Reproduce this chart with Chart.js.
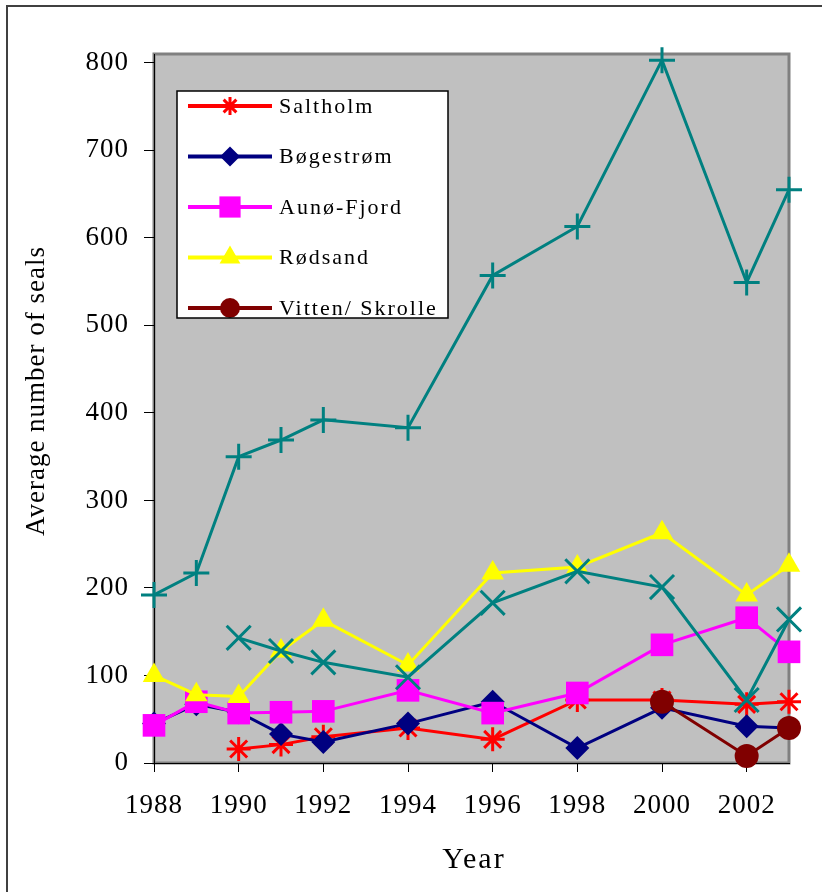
<!DOCTYPE html>
<html>
<head>
<meta charset="utf-8">
<script src="https://cdn.jsdelivr.net/npm/chart.js@4/dist/chart.umd.min.js"></script>
<style>
  html, body { margin: 0; padding: 0; background: #fff; }
  canvas { display: block; }
</style>
</head>
<body>
<canvas id="sealsChart" width="822" height="892"></canvas>
<script>
// survey years and counts
const years = [1988, 1989, 1990, 1991, 1992, 1994, 1996, 1998, 2000, 2002, 2003];
const saltholm = [null, null, 16, 21, 30, 40, 27, 72, 72, 67, 70];
const bogestrom = [45, 67, 58, 33, 24, 45, 70, 17, 63, 42, 40];
const aunoFjord = [43, 70, 57, 58, 59, 83, 57, 80, 135, 166, 127];
const rodsand = [100, 78, 76, 128, 163, 112, 217, 224, 263, 192, 226];
const vittenSkrolle = [null, null, null, null, null, null, null, null, 70, 8, 40];
const tealPlus = [192, 217, 350, 369, 392, 383, 557, 613, 803, 549, 655];
const tealCross = [null, null, 143, 128, 115, 98, 183, 219, 201, 72, 164];

const yTicks = [0, 100, 200, 300, 400, 500, 600, 700, 800];
const xTicks = [1988, 1990, 1992, 1994, 1996, 1998, 2000, 2002];

const FONT = "'Liberation Serif', 'Times New Roman', serif";

const toPoints = arr => years.map((x, i) => ({ x: x, y: arr[i] }));

function series(label, data, color, style, radius, order, inLegend, legendRadius) {
    const lineOnly = style === 'star' || style === 'cross' || style === 'crossRot';
    return {
        label: label,
        data: toPoints(data),
        borderColor: color,
        backgroundColor: color,
        borderWidth: 3,
        pointStyle: style,
        pointRadius: radius,
        pointHoverRadius: radius,
        pointBackgroundColor: color,
        pointBorderColor: color,
        pointBorderWidth: lineOnly ? 3 : 0,
        tension: 0,
        clip: false,
        order: order,
        inLegend: inLegend,
        legendRadius: legendRadius
    };
}

const datasets = [
    series('Saltholm', saltholm, '#ff0000', 'star', 12, 7, true, 9),
    series('Bøgestrøm', bogestrom, '#000080', 'rectRot', 12, 6, true, 10),
    series('Aunø-Fjord', aunoFjord, '#ff00ff', 'rect', 16, 5, true, 15),
    series('Rødsand', rodsand, '#ffff00', 'triangle', 13, 4, true, 12),
    series('Vitten/ Skrolle', vittenSkrolle, '#800000', 'circle', 12, 3, true, 10),
    series('', tealPlus, '#008080', 'cross', 13, 2, false, 0),
    series('', tealCross, '#008080', 'crossRot', 17, 1, false, 0)
];

// plot background, frames, legend box and axis titles
const decorations = {
    id: 'decorations',
    beforeDraw(chart) {
        const { ctx, chartArea: a } = chart;
        ctx.save();
        ctx.fillStyle = '#ffffff';
        ctx.fillRect(0, 0, chart.width, chart.height);
        ctx.strokeStyle = '#404040';
        ctx.lineWidth = 2;
        ctx.strokeRect(7, 6, chart.width + 20, chart.height + 20);
        ctx.fillStyle = '#c0c0c0';
        ctx.fillRect(a.left, a.top, a.right - a.left, a.bottom - a.top);
        ctx.strokeStyle = '#808080';
        ctx.lineWidth = 3;
        ctx.strokeRect(a.left, a.top, a.right - a.left, a.bottom - a.top);
        ctx.restore();
        ctx.letterSpacing = '1px';
    },
    afterDraw(chart) {
        const ctx = chart.ctx;

        // legend
        const box = { x: 177, y: 91, w: 271, h: 227 };
        ctx.save();
        ctx.fillStyle = '#ffffff';
        ctx.fillRect(box.x, box.y, box.w, box.h);
        ctx.beginPath();
        ctx.rect(box.x, box.y, box.w, box.h);
        ctx.clip();
        ctx.font = '22px ' + FONT;
        ctx.letterSpacing = '2px';
        ctx.textBaseline = 'middle';
        ctx.textAlign = 'left';
        chart.data.datasets.filter(d => d.inLegend).forEach((d, i) => {
            const y = 106 + i * 50.5;
            ctx.strokeStyle = d.borderColor;
            ctx.lineWidth = 4;
            ctx.beginPath();
            ctx.moveTo(188, y);
            ctx.lineTo(272, y);
            ctx.stroke();
            ctx.fillStyle = d.borderColor;
            ctx.lineWidth = 3;
            Chart.helpers.drawPoint(ctx, {
                pointStyle: d.pointStyle,
                radius: d.legendRadius,
                rotation: 0,
                borderWidth: d.pointBorderWidth
            }, 230, y);
            ctx.fillStyle = '#000000';
            ctx.fillText(d.label, 279, y + 1);
        });
        ctx.restore();
        ctx.save();
        ctx.strokeStyle = '#000000';
        ctx.lineWidth = 1.5;
        ctx.strokeRect(box.x, box.y, box.w, box.h);
        ctx.restore();

        // axis titles
        ctx.save();
        ctx.fillStyle = '#000000';
        ctx.textAlign = 'center';
        ctx.textBaseline = 'middle';
        ctx.font = '30px ' + FONT;
        ctx.letterSpacing = '2px';
        ctx.fillText('Year', 474, 860);
        ctx.translate(37, 391);
        ctx.rotate(-Math.PI / 2);
        ctx.font = '27px ' + FONT;
        ctx.letterSpacing = '1px';
        ctx.fillText('Average number of seals', 0, 0);
        ctx.restore();
    }
};

new Chart(document.getElementById('sealsChart'), {
    type: 'line',
    data: { datasets: datasets },
    options: {
        responsive: false,
        animation: false,
        devicePixelRatio: 1,
        layout: { padding: { left: 0, right: 33, top: 54, bottom: 0 } },
        plugins: {
            legend: { display: false },
            tooltip: { enabled: false }
        },
        scales: {
            x: {
                type: 'linear',
                min: 1988,
                max: 2003,
                afterFit: scale => { scale.height = 129; },
                afterBuildTicks: scale => { scale.ticks = xTicks.map(v => ({ value: v })); },
                grid: { drawOnChartArea: false, drawTicks: true, tickLength: 9, color: '#000000' },
                border: { display: true, color: '#000000', width: 1 },
                ticks: {
                    padding: 18,
                    maxRotation: 0,
                    autoSkip: false,
                    color: '#000000',
                    font: { family: FONT, size: 27 },
                    callback: v => String(v)
                }
            },
            y: {
                type: 'linear',
                min: 0,
                max: 810,
                afterFit: scale => { scale.width = 154; },
                afterBuildTicks: scale => { scale.ticks = yTicks.map(v => ({ value: v })); },
                grid: { drawOnChartArea: false, drawTicks: true, tickLength: 10, color: '#000000' },
                border: { display: true, color: '#000000', width: 1 },
                ticks: {
                    padding: 15,
                    color: '#000000',
                    font: { family: FONT, size: 27 },
                    callback: v => String(v)
                }
            }
        }
    },
    plugins: [decorations]
});
</script>
</body>
</html>
